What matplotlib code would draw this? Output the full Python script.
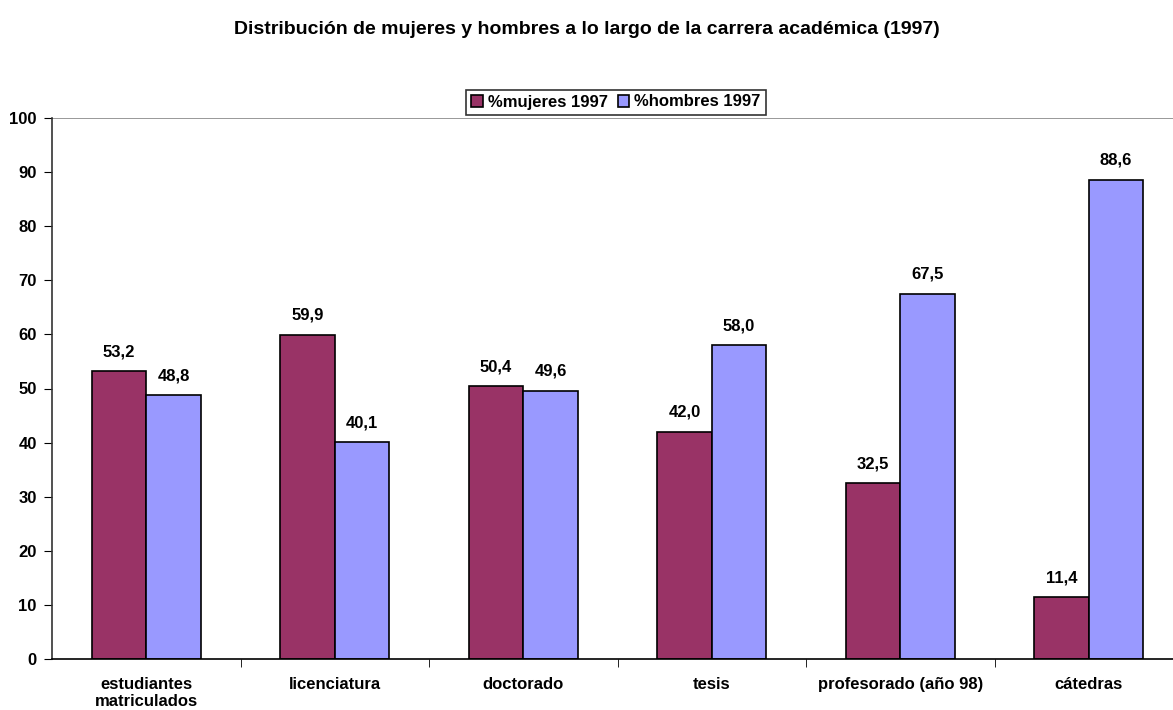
import numpy as np
import matplotlib.pyplot as plt

plt.rcParams['font.family'] = ['Liberation Sans', 'DejaVu Sans']

# data
categorias = ['estudiantes\nmatriculados', 'licenciatura', 'doctorado', 'tesis',
              'profesorado (año 98)', 'cátedras']
mujeres = [53.2, 59.9, 50.4, 42.0, 32.5, 11.4]
hombres = [48.8, 40.1, 49.6, 58.0, 67.5, 88.6]

fig = plt.figure(figsize=(11.73, 7.10), dpi=100)
ax = fig.add_axes([52 / 1173, 51 / 710, 1131 / 1173, 541 / 710])

x = np.arange(len(categorias))
w = 0.29
b1 = ax.bar(x - w / 2, mujeres, w, color='#993366', edgecolor='black', linewidth=1.2,
            label='%mujeres 1997')
b2 = ax.bar(x + w / 2, hombres, w, color='#9999FF', edgecolor='black', linewidth=1.2,
            label='%hombres 1997')

for bars, vals in ((b1, mujeres), (b2, hombres)):
    for r, v in zip(bars, vals):
        ax.annotate(f'{v:.1f}'.replace('.', ','), (r.get_x() + r.get_width() / 2, v),
                    xytext=(0, 14), textcoords='offset points', ha='center', va='center',
                    fontsize=12, fontweight='bold')

ax.set_xlim(-0.5, len(categorias) - 0.5)
ax.set_ylim(0, 100)
ax.set_yticks(range(0, 101, 10))
ax.axhline(100, color='#888888', linewidth=1.2, zorder=0)

ax.set_xticks(x)
ax.set_xticklabels(categorias, fontsize=12, fontweight='bold', linespacing=1.2)
ax.tick_params(axis='x', length=0, pad=13)
ax.set_xticks(np.arange(0.5, len(categorias) - 0.5, 1), minor=True)
ax.tick_params(axis='x', which='minor', length=6, direction='out', color='black')
ax.tick_params(axis='y', length=6, direction='out', labelsize=12, pad=5)
for lbl in ax.get_yticklabels():
    lbl.set_fontweight('bold')

for s in ('top', 'right'):
    ax.spines[s].set_visible(False)
ax.spines['left'].set_color('#333333')
ax.spines['left'].set_linewidth(1.2)
ax.spines['bottom'].set_linewidth(1.2)

fig.text(0.5, 1 - 29 / 710, 'Distribución de mujeres y hombres a lo largo de la carrera académica (1997)',
         ha='center', va='center', fontsize=14, fontweight='bold')

leg = fig.legend(loc='center', bbox_to_anchor=(616 / 1173, 1 - 102 / 710), ncol=2,
                 frameon=True, fancybox=False, edgecolor='black', handlelength=0.7,
                 handleheight=0.7, handletextpad=0.3, columnspacing=0.6,
                 borderpad=0.3, prop={'weight': 'bold', 'size': 12})
leg.get_frame().set_linewidth(1.2)

fig.savefig('out.png', dpi=100)
